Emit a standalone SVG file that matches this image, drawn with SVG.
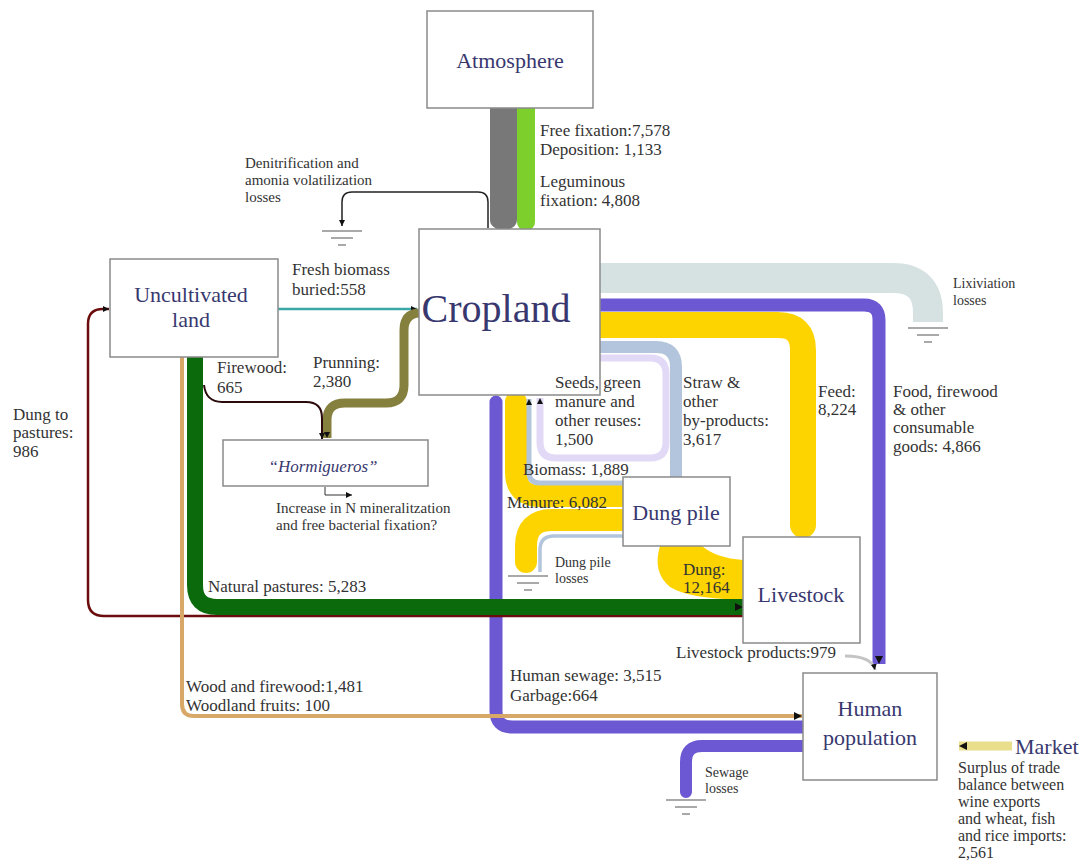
<svg xmlns="http://www.w3.org/2000/svg" width="1084" height="861" viewBox="0 0 1084 861">
<style>
text{font-family:"Liberation Serif","Times New Roman",serif;}
.box{fill:#fff;stroke:#8a8a8a;stroke-width:1.5;}
.nt{fill:#38386f;font-size:22px;text-anchor:middle;}
.lb{fill:#333;font-size:17px;}
.sm{fill:#333;font-size:15px;}
.md{fill:#333;font-size:16px;}
.xs{fill:#333;font-size:14px;}
.band{fill:none;stroke-linejoin:round;}
.thin{fill:none;}
.gnd line{stroke:#8c8c8c;stroke-width:1.5;}
</style>
<defs>
<marker id="arr" viewBox="0 0 8 8" refX="8" refY="4" markerWidth="8" markerHeight="8" markerUnits="userSpaceOnUse" orient="auto"><path d="M0,0 L8,4 L0,8 z" fill="#111"/></marker>
<marker id="arrs" viewBox="0 0 6 6" refX="6" refY="3" markerWidth="6" markerHeight="6" markerUnits="userSpaceOnUse" orient="auto"><path d="M0,0 L6,3 L0,6 z" fill="#111"/></marker>
<g id="gnd" class="gnd"><line x1="-20" y1="0" x2="20" y2="0"/><line x1="-11" y1="7" x2="11" y2="7"/><line x1="-4" y1="14" x2="4" y2="14"/></g>
</defs>
<rect width="1084" height="861" fill="#fff"/>

<g id="connectors">
  <path d="M490,108 H517 V220 Q517,228 503.5,231 Q490,228 490,220 Z" fill="#787878"/>
  <path d="M517,108 H535 V222 Q535,229 526,231 Q517,229 517,222 Z" fill="#7dcf2b"/>
  <path class="thin" d="M488,228 V202 Q488,192 478,192 H352 Q342,192 342,202 V226" stroke="#222" stroke-width="1.5" marker-end="url(#arrs)"/>
  <use href="#gnd" x="342" y="231"/>
  <path class="band" d="M600,278 H893 Q928,278 928,313 V322" stroke="#d6e2e2" stroke-width="30"/>
  <use href="#gnd" x="928" y="328"/>
  <path class="band" d="M600,305 H864 Q879,305 879,320 V664" stroke="#6b58d2" stroke-width="13" marker-end="url(#arr)"/>
  <path class="band" d="M600,325 H778 Q803,325 803,350 V525" stroke="#fdd400" stroke-width="26" stroke-linecap="round"/>
  <path class="band" d="M600,347 H656 Q676,347 676,367 V477" stroke="#b3c5dc" stroke-width="12"/>
  <path class="band" d="M600,358 H650 Q666,358 666,374 V442 Q666,458 650,458 H556 Q540,458 540,442 V398" stroke="#e2d9f6" stroke-width="7" marker-end="url(#arrs)"/>
  <path class="band" d="M803,727 H512 Q496,727 496,711 V402" stroke="#6b58d2" stroke-width="13" stroke-linecap="round"/>
  <path class="band" d="M803,746 H702 Q686,746 686,762 V792" stroke="#6b58d2" stroke-width="12" stroke-linecap="round"/>
  <use href="#gnd" x="686" y="800"/>
  <path class="band" d="M623,496 H540 Q516,496 516,472 V402" stroke="#fdd400" stroke-width="22" stroke-linecap="round"/>
  <path class="band" d="M623,520 H552 Q526,520 526,546 V562" stroke="#fdd400" stroke-width="22" stroke-linecap="round"/>
  <path class="thin" d="M623,536 H554 Q540,536 540,550 V572" stroke="#b3c5dc" stroke-width="3.5"/>
  <use href="#gnd" x="528" y="576"/>
  <path class="thin" d="M623,483 H540 Q529,483 529,472 V399" stroke="#b3c5dc" stroke-width="5" marker-end="url(#arrs)"/>
  <path d="M660,546 L702,546 Q716,558 743,560 L743,599 Q692,600 670,587 Q652,572 660,546 Z" fill="#fdd400"/>
  <path class="thin" d="M743,616 H104 Q88,616 88,600 V324 Q88,309 103,309 H109" stroke="#6b0d0d" stroke-width="2.5" marker-end="url(#arrs)"/>
  <path class="thin" d="M182,357 V704 Q182,716 194,716 H802" stroke="#d8a868" stroke-width="4" marker-end="url(#arr)"/>
  <path class="band" d="M195,357 V585 Q195,607 217,607 H743" stroke="#0b6a0b" stroke-width="16" marker-end="url(#arr)"/>
  <path class="thin" d="M278,309 H417" stroke="#3aa6a6" stroke-width="2.5" marker-end="url(#arrs)"/>
  <path class="band" d="M419,313 Q404,314 404,330 V385 Q404,403 386,403 H345 Q327,403 327,420 V438" stroke="#86803f" stroke-width="9" marker-end="url(#arrs)"/>
  <path class="thin" d="M204,385 Q206,402 222,402 H306 Q322,402 322,418 V439" stroke="#2a0a0a" stroke-width="2" marker-end="url(#arrs)"/>
  <path class="thin" d="M325,487 V495 H352" stroke="#333" stroke-width="1" marker-end="url(#arrs)"/>
  <path class="thin" d="M845,656 Q872,656 875,670" stroke="#c4c4c4" stroke-width="3" marker-end="url(#arrs)"/>
  <path class="thin" d="M1012,746 H959" stroke="#e8de8c" stroke-width="9" marker-end="url(#arr)"/>
</g>

<g id="atmosphere"><rect class="box" x="427" y="11" width="166" height="97"/><text class="nt" x="510" y="68">Atmosphere</text></g>
<g id="cropland"><rect class="box" x="419" y="229" width="181" height="166"/><text class="nt" x="496" y="322" style="font-size:40px">Cropland</text></g>
<g id="uncultivated"><rect class="box" x="110" y="259" width="168" height="98"/><text class="nt" x="191" y="302">Uncultivated</text><text class="nt" x="191" y="327">land</text></g>
<g id="hormigueros"><rect class="box" x="223" y="440" width="205" height="46"/><text class="nt" x="323" y="472" style="font-size:17px;font-style:italic">“Hormigueros”</text></g>
<g id="dungpile"><rect class="box" x="623" y="477" width="107" height="69"/><text class="nt" x="676" y="520">Dung pile</text></g>
<g id="livestock"><rect class="box" x="743" y="537" width="117" height="106"/><text class="nt" x="801" y="602">Livestock</text></g>
<g id="human"><rect class="box" x="803" y="673" width="134" height="107"/><text class="nt" x="870" y="716">Human</text><text class="nt" x="870" y="745">population</text></g>
<g id="market"><text class="nt" x="1015" y="754" style="text-anchor:start">Market</text></g>

<g id="labels">
  <text class="lb" x="540" y="136">Free fixation:7,578</text>
  <text class="lb" x="540" y="155">Deposition: 1,133</text>
  <text class="lb" x="540" y="187">Leguminous</text>
  <text class="lb" x="540" y="206">fixation: 4,808</text>
  <text class="sm" x="245" y="168">Denitrification and</text>
  <text class="sm" x="245" y="185">amonia volatilization</text>
  <text class="sm" x="245" y="202">losses</text>
  <text class="lb" x="292" y="275">Fresh biomass</text>
  <text class="lb" x="292" y="295">buried:558</text>
  <text class="xs" x="953" y="288">Lixiviation</text>
  <text class="xs" x="953" y="305">losses</text>
  <text class="lb" x="217" y="373">Firewood:</text>
  <text class="lb" x="217" y="393">665</text>
  <text class="lb" x="313" y="368">Prunning:</text>
  <text class="lb" x="313" y="387">2,380</text>
  <text class="lb" x="13" y="420">Dung to</text>
  <text class="lb" x="13" y="438">pastures:</text>
  <text class="lb" x="13" y="457">986</text>
  <text class="lb" x="555" y="388">Seeds, green</text>
  <text class="lb" x="555" y="407">manure and</text>
  <text class="lb" x="555" y="426">other reuses:</text>
  <text class="lb" x="555" y="445">1,500</text>
  <text class="lb" x="683" y="388">Straw &amp;</text>
  <text class="lb" x="683" y="407">other</text>
  <text class="lb" x="683" y="426">by-products:</text>
  <text class="lb" x="683" y="445">3,617</text>
  <text class="lb" x="818" y="397">Feed:</text>
  <text class="lb" x="818" y="415">8,224</text>
  <text class="lb" x="893" y="397">Food, firewood</text>
  <text class="lb" x="893" y="415">&amp; other</text>
  <text class="lb" x="893" y="433">consumable</text>
  <text class="lb" x="893" y="452">goods: 4,866</text>
  <text class="lb" x="523" y="475">Biomass: 1,889</text>
  <text class="lb" x="507" y="508">Manure: 6,082</text>
  <text class="sm" x="276" y="513">Increase in N mineralitzation</text>
  <text class="sm" x="276" y="530">and free bacterial fixation?</text>
  <text class="xs" x="555" y="567">Dung pile</text>
  <text class="xs" x="555" y="583">losses</text>
  <text class="lb" x="683" y="575">Dung:</text>
  <text class="lb" x="683" y="593">12,164</text>
  <text class="lb" x="208" y="592">Natural pastures: 5,283</text>
  <text class="lb" x="676" y="658">Livestock products:979</text>
  <text class="lb" x="510" y="681">Human sewage: 3,515</text>
  <text class="lb" x="510" y="701">Garbage:664</text>
  <text class="lb" x="186" y="692">Wood and firewood:1,481</text>
  <text class="lb" x="186" y="711">Woodland fruits: 100</text>
  <text class="xs" x="705" y="777">Sewage</text>
  <text class="xs" x="705" y="793">losses</text>
  <text class="md" x="958" y="773">Surplus of trade</text>
  <text class="md" x="958" y="790">balance between</text>
  <text class="md" x="958" y="807">wine exports</text>
  <text class="md" x="958" y="824">and wheat, fish</text>
  <text class="md" x="958" y="841">and rice imports:</text>
  <text class="md" x="958" y="858">2,561</text>
</g>
</svg>
